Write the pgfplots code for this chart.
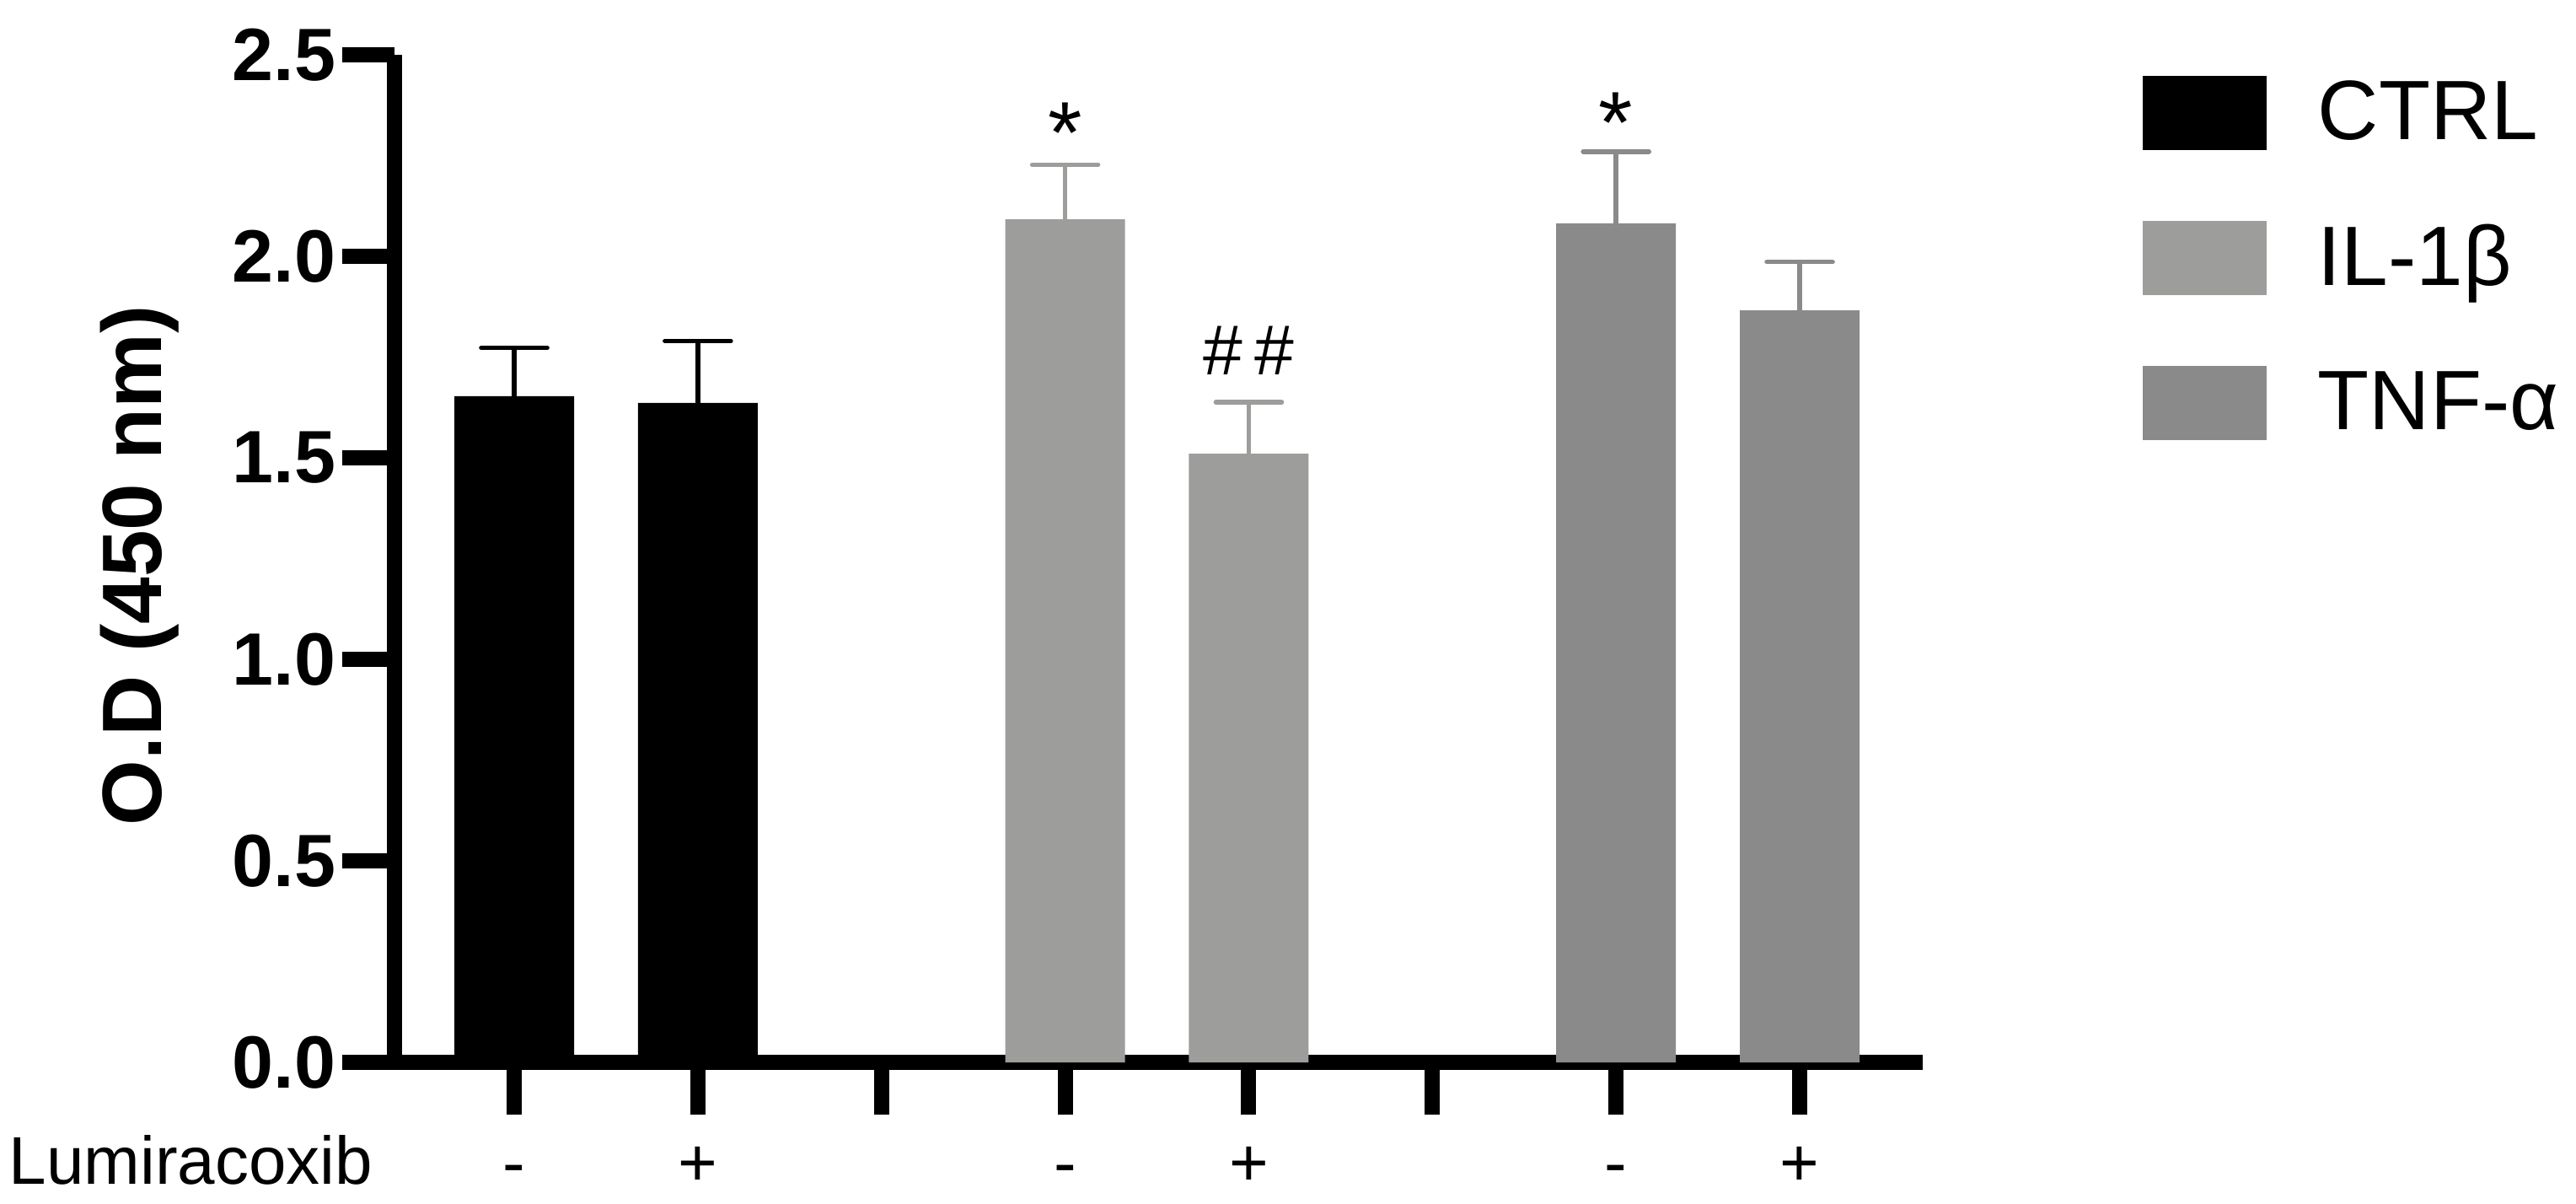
\documentclass[border=0pt]{standalone}
\usepackage{pgfplots}
\pgfplotsset{compat=1.18}
\usepackage{pgfplotstable}
\usepackage{fontspec}
\setmainfont{Liberation Sans}
\definecolor{ilb}{RGB}{157,157,156}
\definecolor{tnf}{RGB}{138,138,138}
\pgfplotstableread{
x y e
1 1.653 0.120
2 1.636 0.154
}\ctrl
\pgfplotstableread{
x y e
4 2.092 0.135
5 1.510 0.128
}\ilb
\pgfplotstableread{
x y e
7 2.082 0.178
8 1.866 0.120
}\tnf
\begin{document}
\begin{tikzpicture}
\begin{axis}[
  scale only axis,
  width=453.25pt, height=298.75pt,
  xmin=0.348, xmax=8.67, ymin=0, ymax=2.5,
  clip=false,
  axis x line*=bottom, axis y line*=left,
  axis line style={-, line width=4.5pt, black},
  tick align=outside,
  major tick length=15.5pt,
  tick style={black, line width=4.5pt},
  xtick={1,2,3,4,5,6,7,8},
  xticklabels={-,+,,-,+,,-,+},
  xticklabel style={font=\fontsize{20}{24}\selectfont, anchor=base, inner sep=0pt, yshift=-21pt},
  ytick={0,0.5,1,1.5,2,2.5},
  yticklabel style={/pgf/number format/.cd, fixed, fixed zerofill, precision=1, assume math mode=true, /tikz/.cd, font=\fontsize{22}{26}\selectfont\bfseries, inner sep=0pt, xshift=-1.75pt},
  ylabel={\bfseries O.D (450 nm)},
  every axis y label/.style={at={(axis description cs:-0.1523,0.4929)}, rotate=90, anchor=base, font=\fontsize{25}{30}\selectfont},
  legend style={at={(axis description cs:1.1434,0.98)}, anchor=north west, draw=none, fill=none, inner sep=0pt, row sep=21pt, font=\fontsize{25}{30}\selectfont, nodes={inner sep=0pt}},
  legend cell align=left,
  legend image code/.code={\fill[#1] (0pt,-11pt) rectangle (36.75pt,11pt); \path[draw=none, fill=none] (0pt,0pt) -- (52pt,0pt);},
]
\addplot[ybar, bar width=35.5pt, bar shift=0pt, fill=black, draw=none,
  error bars/.cd, y dir=plus, y explicit,
  error bar style={draw=black, line width=1.4pt},
  error mark options={draw=black, rotate=90, line width=1.4pt, mark size=9.75pt, line cap=round}]
  table[x=x, y=y, y error=e] {\ctrl};
\addlegendentry{CTRL}
\addplot[ybar, bar width=35.5pt, bar shift=0pt, fill=ilb, draw=none,
  error bars/.cd, y dir=plus, y explicit,
  error bar style={draw=ilb, line width=1.4pt},
  error mark options={draw=ilb, rotate=90, line width=1.4pt, mark size=9.75pt, line cap=round}]
  table[x=x, y=y, y error=e] {\ilb};
\addlegendentry{IL-1β}
\addplot[ybar, bar width=35.5pt, bar shift=0pt, fill=tnf, draw=none,
  error bars/.cd, y dir=plus, y explicit,
  error bar style={draw=tnf, line width=1.4pt},
  error mark options={draw=tnf, rotate=90, line width=1.4pt, mark size=9.75pt, line cap=round}]
  table[x=x, y=y, y error=e] {\tnf};
\addlegendentry{TNF-α}
\node[anchor=base, inner sep=0pt, font=\fontsize{26}{30}\selectfont] at (axis cs:4,2.231) {*};
\node[anchor=base, inner sep=0pt, font=\fontsize{26}{30}\selectfont] at (axis cs:7,2.256) {*};
\node[anchor=base, inner sep=0pt, font=\fontsize{21}{26}\selectfont] at (axis cs:5,1.707) {\#\,\#};
\end{axis}
\node[anchor=base west, inner sep=0pt, font=\fontsize{20}{24}\selectfont] at (-114.5pt,-36pt) {Lumiracoxib};
\pgfresetboundingbox
\path[use as bounding box] (-117pt,-41.75pt) rectangle (647pt,315pt);
\end{tikzpicture}
\end{document}
